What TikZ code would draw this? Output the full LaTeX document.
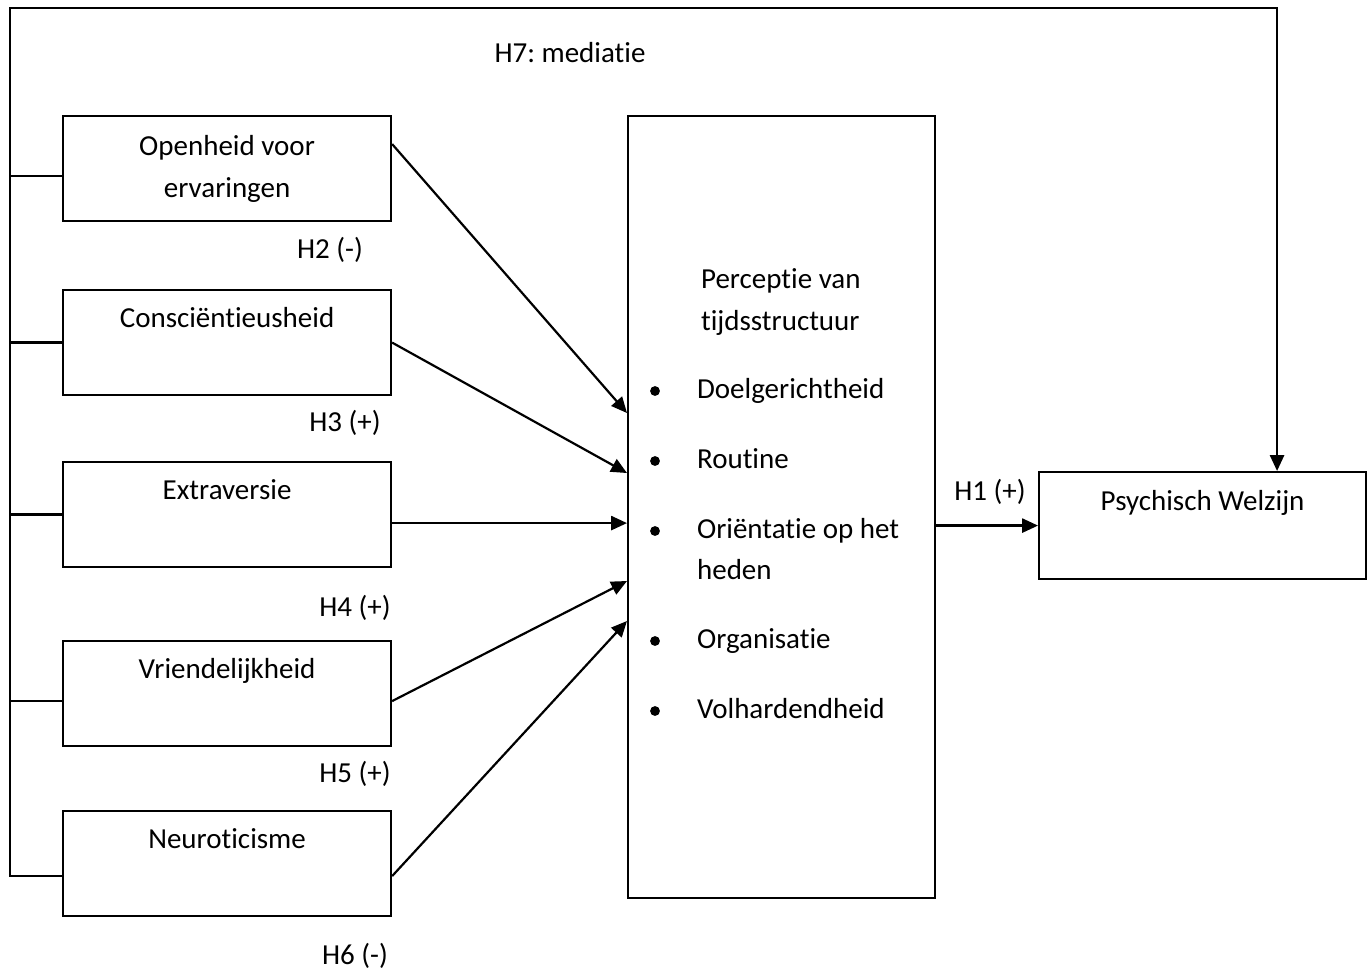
\documentclass[tikz,border=0pt]{standalone}
\usepackage{fontspec}
\setmainfont{Carlito}[Ligatures=NoCommon]
\usepackage{tikz}
\usetikzlibrary{arrows.meta}
\usetikzlibrary{positioning}
\usetikzlibrary{calc}
\tikzstyle{trait}=[draw,rectangle,minimum width=6.56cm,minimum height=2.1cm,anchor=north west,align=center,inner sep=2pt]
\tikzstyle{boven}=[text height=12pt,text depth=29pt]
\tikzstyle{lbl}=[inner sep=0pt,text height=12pt,text depth=3.5pt]
\frenchspacing

\begin{document}
\begin{tikzpicture}[x=0.02cm,y=-0.02cm,line width=1.25pt,>={Triangle[length=9pt,width=8pt]},
  font=\fontsize{16.5}{23.8}\selectfont]
\useasboundingbox (0,0) rectangle (1368,976);
% vijf persoonlijkheidsfactoren
\node [trait] (open) at (62,115) {Openheid voor\\ervaringen};
\node [trait,boven] (consc) at (62,289) {Consciëntieusheid};
\node [trait,boven] (extra) at (62,461) {Extraversie};
\node [trait,boven] (vriend) at (62,640) {Vriendelijkheid};
\node [trait,boven] (neuro) at (62,810) {Neuroticisme};

\node [draw,minimum width=6.14cm,minimum height=15.64cm,anchor=north west] (tijd) at (627,115) {};
\node [trait,boven,minimum width=6.54cm,minimum height=2.14cm] (psych) at (1038,471) {Psychisch Welzijn};

\node [lbl,anchor=west] (perc) at (700,281) {Perceptie van};
\node [lbl,anchor=west] (struct) at (700,323) {tijdsstructuur};
\foreach \y/\t [count=\i] in {391/Doelgerichtheid,461/Routine,531/Oriëntatie op het,641/Organisatie,711/Volhardendheid}{
  \fill (655,\y) circle (2.8pt);
  \node [lbl,anchor=west] (item\i) at (696,\y) {\t};
}
\node [lbl,anchor=west] (heden) at (696,572) {heden};

% labels
\node [lbl] (h7) at (570,55) {H7: mediatie};
\node [lbl] (h1) at (990,493) {H1 (+)};
\node [lbl] (h2) at (330,251) {H2 (-)};
\node [lbl] (h3) at (345,424) {H3 (+)};
\node [lbl] (h4) at (355,609) {H4 (+)};
\node [lbl] (h5) at (355,775) {H5 (+)};
\node [lbl] (h6) at (355,957) {H6 (-)};

% pijlen naar tijdsstructuur
\coordinate (e3) at ([yshift=-0.17cm]extra.east);
\draw[->] ([yshift=0.49cm]open.east) -- ([yshift=1.88cm]tijd.west);
\draw[->] (consc.east) -- ([yshift=0.68cm]tijd.west);
\draw[->] (e3) -- (e3 -| tijd.west);
\draw[->] ([yshift=-0.15cm]vriend.east) -- ([yshift=-1.48cm]tijd.west);
\draw[->] ([yshift=-0.25cm]neuro.east) -- ([yshift=-2.28cm]tijd.west);
\draw[->] (psych.west -| tijd.east) -- (psych.west);

% mediatie
\coordinate (hoek) at (10,8);
\foreach \n/\s in {open/-0.15,consc/0,extra/0,vriend/-0.15}
  \draw ([yshift=\s cm]\n.west) -- ++(-52,0);
\draw[->] ([yshift=-0.25cm]neuro.west) -| (hoek) -| ([xshift=1.49cm]psych.north);
\end{tikzpicture}
\end{document}
